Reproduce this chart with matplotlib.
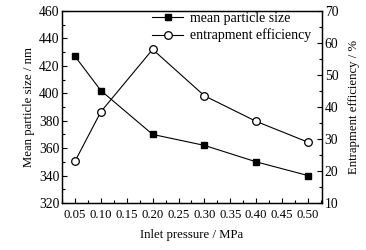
import matplotlib
matplotlib.use("Agg")
import matplotlib.pyplot as plt
from matplotlib.ticker import MultipleLocator

plt.rcParams['font.family'] = ['Liberation Serif', 'DejaVu Serif']
plt.rcParams['font.size'] = 10

pressure = [0.05, 0.10, 0.20, 0.30, 0.40, 0.50]
particle_size = [427, 402, 370, 362, 350, 340]
efficiency = [23, 38.5, 58, 43.5, 35.5, 29]
xticks = [0.05, 0.10, 0.15, 0.20, 0.25, 0.30, 0.35, 0.40, 0.45, 0.50]

fig = plt.figure(figsize=(3.66, 2.5), dpi=100)
ax = fig.add_axes([62/366, 1-203/250, (322-62)/366, (203-11)/250])
ax2 = ax.twinx()

l1, = ax.plot(pressure, particle_size, '-s', color='black', lw=0.8,
              ms=5, mfc='black', label='mean particle size')
l2, = ax2.plot(pressure, efficiency, '-o', color='black', lw=0.8,
               ms=5.5, mfc='white', mew=0.9, label='entrapment efficiency')

ax.set_xlim(0.025, 0.527)
ax.set_ylim(320, 460)
ax2.set_ylim(10, 70)
ax.set_xticks(xticks)
ax.set_xticklabels([f"{t:.2f}" for t in xticks])
ax.xaxis.set_minor_locator(MultipleLocator(0.025))
ax.yaxis.set_major_locator(MultipleLocator(20))
ax.yaxis.set_minor_locator(MultipleLocator(10))
ax2.yaxis.set_major_locator(MultipleLocator(10))
ax2.yaxis.set_minor_locator(MultipleLocator(5))

for a in (ax, ax2):
    a.tick_params(which='both', direction='in', width=0.8, labelsize=9.8)
    a.tick_params(which='major', length=3.5, pad=2)
    a.tick_params(which='minor', length=2)
    for s in a.spines.values():
        s.set_linewidth(0.9)
ax.tick_params(axis='x', which='both', top=False, pad=4, labelsize=9.2)

ax.set_xlabel('Inlet pressure / MPa', fontsize=9.2, labelpad=6)
ax.set_ylabel('Mean particle size / nm', fontsize=9.2, labelpad=3)
ax2.set_ylabel('Entrapment efficiency / %', fontsize=9.2, labelpad=7)

ax.legend(handles=[l1, l2], loc='upper right', frameon=False, fontsize=10,
          handlelength=2.2, handletextpad=0.5, labelspacing=0.25,
          borderaxespad=0.1, bbox_to_anchor=(0.985, 1.03))

fig.savefig('out.png', dpi=100)
